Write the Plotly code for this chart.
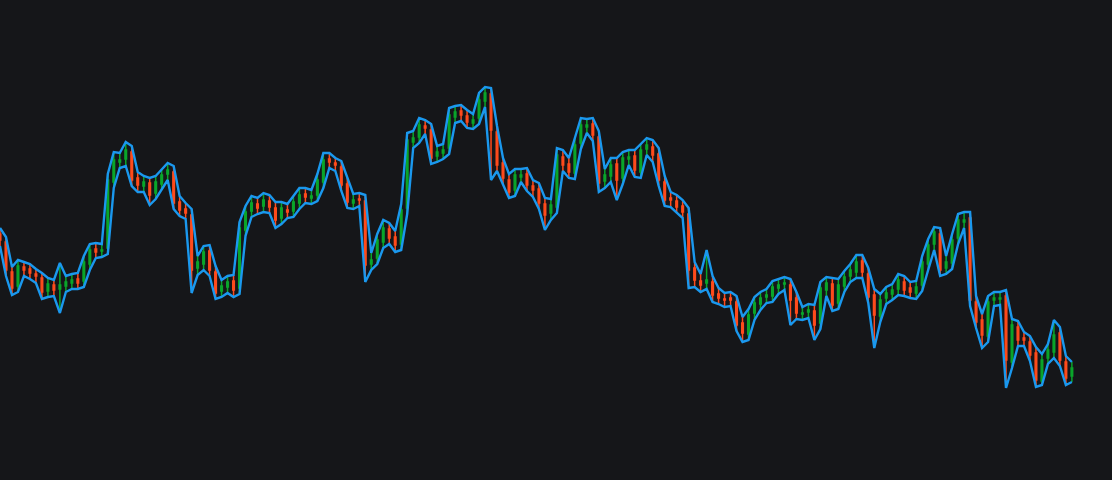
"""Daily bars with the high/low envelope drawn as two lines, dark theme, no axes."""

import plotly.graph_objects as go

day = list(range(180))

open_ = [
    246, 238, 208, 194, 213, 211, 206, 202, 189, 195,
    191, 194, 197, 201, 199, 216, 231, 229, 232, 298,
    318, 321, 328, 302, 294, 297, 287, 296, 306, 308,
    278, 271, 265, 212, 216, 229, 208, 189, 193, 199,
    192, 250, 269, 276, 274, 279, 272, 262, 270, 269,
    277, 286, 282, 285, 298, 321, 317, 313, 296, 277,
    281, 279, 216, 222, 238, 251, 243, 236, 272, 338,
    343, 354, 350, 324, 327, 332, 363, 369, 364, 357,
    362, 379, 386, 348, 317, 300, 290, 303, 306, 294,
    291, 276, 267, 273, 323, 316, 307, 337, 353, 356,
    343, 299, 304, 316, 302, 321, 324, 308, 331, 333,
    326, 298, 282, 279, 274, 266, 212, 199, 197, 198,
    186, 181, 182, 178, 157, 146, 167, 176, 183, 184,
    192, 196, 195, 182, 166, 168, 169, 157, 190, 196,
    177, 194, 204, 208, 219, 206, 185, 164, 182, 186,
    191, 198, 192, 187, 195, 216, 236, 246, 212, 217,
    242, 258, 262, 178, 160, 144, 180, 181, 184, 118,
    153, 142, 138, 127, 99, 122, 128, 147, 118, 104,
]

high = [
    252, 243, 213, 220, 218, 216, 211, 207, 202, 200,
    217, 204, 206, 207, 224, 236, 237, 236, 306, 328,
    327, 338, 334, 308, 304, 302, 304, 311, 317, 314,
    284, 277, 271, 224, 234, 235, 214, 200, 204, 205,
    258, 274, 284, 282, 287, 285, 278, 278, 276, 284,
    292, 292, 290, 306, 327, 327, 322, 319, 302, 286,
    287, 285, 227, 246, 260, 257, 249, 276, 347, 349,
    362, 360, 356, 334, 336, 372, 374, 375, 370, 366,
    387, 393, 392, 354, 322, 306, 311, 311, 312, 300,
    297, 282, 281, 332, 330, 322, 342, 362, 361, 362,
    349, 311, 322, 322, 328, 330, 330, 336, 342, 340,
    332, 304, 288, 285, 280, 272, 218, 206, 230, 204,
    192, 187, 188, 184, 163, 171, 183, 188, 191, 199,
    201, 203, 201, 188, 173, 176, 175, 198, 203, 202,
    201, 209, 216, 225, 225, 212, 191, 186, 193, 196,
    206, 204, 198, 199, 224, 241, 253, 252, 224, 246,
    266, 268, 268, 184, 166, 184, 188, 188, 190, 161,
    159, 148, 144, 133, 126, 136, 160, 153, 124, 118,
]

low = [
    234, 204, 185, 188, 204, 201, 197, 181, 183, 184,
    167, 188, 191, 191, 193, 210, 222, 223, 226, 292,
    312, 314, 294, 288, 288, 275, 281, 290, 300, 271,
    264, 261, 187, 205, 210, 204, 181, 183, 187, 183,
    186, 244, 263, 266, 268, 267, 252, 256, 262, 263,
    271, 277, 276, 279, 292, 312, 309, 289, 272, 271,
    274, 198, 210, 216, 232, 236, 228, 230, 266, 332,
    337, 346, 316, 318, 321, 326, 357, 359, 352, 351,
    356, 373, 300, 309, 296, 282, 284, 298, 289, 283,
    271, 250, 260, 267, 309, 302, 301, 331, 347, 339,
    288, 292, 298, 280, 296, 315, 303, 302, 325, 318,
    294, 274, 273, 267, 262, 192, 193, 188, 191, 178,
    176, 173, 174, 149, 138, 140, 160, 170, 177, 178,
    186, 190, 155, 161, 160, 162, 140, 151, 184, 169,
    171, 188, 198, 202, 202, 177, 132, 158, 176, 180,
    185, 184, 182, 181, 189, 210, 230, 204, 206, 211,
    236, 252, 174, 152, 132, 138, 174, 175, 92, 112,
    134, 134, 119, 93, 95, 116, 122, 114, 95, 98,
]

close = [
    240, 210, 192, 214, 210, 207, 204, 188, 196, 190,
    195, 198, 200, 197, 218, 230, 228, 230, 300, 320,
    320, 330, 300, 295, 298, 285, 298, 305, 310, 277,
    270, 267, 210, 218, 228, 210, 187, 194, 198, 190,
    252, 268, 277, 272, 280, 273, 260, 272, 268, 278,
    285, 283, 284, 300, 320, 318, 315, 295, 278, 280,
    280, 215, 220, 240, 252, 242, 235, 270, 340, 342,
    355, 352, 322, 328, 330, 365, 368, 365, 358, 360,
    380, 387, 350, 315, 302, 288, 305, 305, 295, 290,
    277, 265, 275, 325, 315, 308, 335, 355, 355, 345,
    297, 305, 315, 300, 322, 323, 310, 330, 335, 325,
    300, 280, 280, 273, 268, 210, 200, 195, 200, 185,
    182, 180, 180, 155, 147, 165, 177, 182, 185, 193,
    195, 197, 180, 167, 167, 170, 155, 192, 197, 175,
    195, 203, 210, 218, 208, 183, 165, 180, 187, 190,
    200, 190, 188, 193, 218, 235, 248, 210, 218, 240,
    260, 260, 180, 158, 145, 178, 182, 182, 120, 155,
    140, 140, 125, 100, 120, 130, 145, 120, 102, 112,
]

background = "#151619"
envelope = "#1a98ee"
rising = "#0aa52a"
falling = "#ff4b1c"

fig = go.Figure()

# The envelope goes underneath so the bars read on top of it.
for series, label in ((high, "High"), (low, "Low")):
    fig.add_trace(
        go.Scatter(
            x=day,
            y=series,
            mode="lines",
            name=label,
            line=dict(color=envelope, width=2.4),
            hoverinfo="skip",
        )
    )

fig.add_trace(
    go.Candlestick(
        x=day,
        open=open_,
        high=high,
        low=low,
        close=close,
        name="Price",
        increasing=dict(line=dict(color=rising, width=1.5), fillcolor=rising),
        decreasing=dict(line=dict(color=falling, width=1.5), fillcolor=falling),
    )
)

fig.update_layout(
    width=1112,
    height=480,
    margin=dict(l=0, r=0, t=0, b=0),
    paper_bgcolor=background,
    plot_bgcolor=background,
    showlegend=False,
    boxgap=0.62,
    xaxis=dict(
        range=[0, 185.7],
        visible=False,
        showgrid=False,
        zeroline=False,
        rangeslider=dict(visible=False),
    ),
    yaxis=dict(range=[0, 480], visible=False, showgrid=False, zeroline=False),
)

# The page's default 8px body margin would frame the chart in white.
fig.write_html(
    "out.html",
    config=dict(displayModeBar=False),
    post_script=(
        "document.body.style.margin='0';"
        f"document.body.style.background='{background}';"
    ),
)
